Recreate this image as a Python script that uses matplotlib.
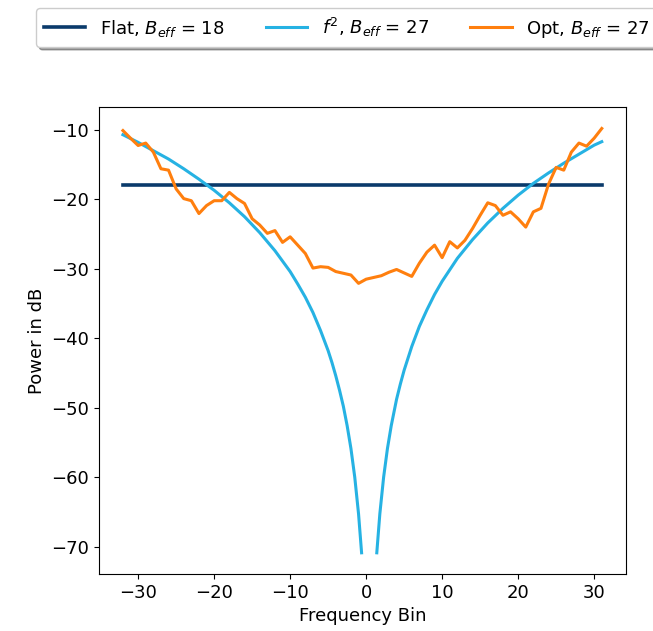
import numpy as np
import matplotlib
matplotlib.use("Agg")
import matplotlib.pyplot as plt

# ---- data ----
bins = list(range(-32, 32))
flat_level = [-18.0] * len(bins)

opt_db = [
    -10.1, -11.2, -12.25, -11.9, -13.2, -15.6, -15.8, -18.5,   # -32..-25
    -19.9, -20.2, -22.05, -20.9, -20.2, -20.2, -19.0, -19.9,   # -24..-17
    -20.6, -22.8, -23.7, -24.9, -24.5, -26.2, -25.4, -26.6,    # -16..-9
    -27.8, -29.9, -29.7, -29.8, -30.4, -30.65, -30.9, -32.1,   # -8..-1
    -31.5, -31.25, -31.0, -30.5, -30.1, -30.6, -31.1, -29.2,   # 0..7
    -27.6, -26.6, -28.4, -26.1, -27.0, -25.9, -24.2, -22.3,    # 8..15
    -20.5, -20.9, -22.3, -21.8, -22.8, -24.0, -21.8, -21.3,    # 16..23
    -17.8, -15.4, -15.8, -13.2, -11.9, -12.35, -11.2, -9.8,    # 24..31
]

f2_x = [-32, -30, -28, -26, -24, -22, -20, -18, -16, -14, -12, -10, -9, -8, -7,
        -6, -5, -4.5, -4, -3.5, -3, -2.5, -2, -1.5, -1, -0.6,
        0.4,
        1.4, 1.8, 2.3, 2.8, 3.3, 4, 4.5, 5, 6, 7, 8, 9, 10, 12, 14, 16, 18, 20,
        22, 24, 26, 28, 30, 31]
f2_db = [-10.7, -11.8, -13.0, -14.2, -15.6, -17.1, -18.7, -20.5, -22.5, -24.8,
         -27.4, -30.4, -32.2, -34.1, -36.3, -38.9, -41.8, -43.5, -45.4, -47.5,
         -49.8, -52.6, -55.9, -60.0, -65.3, -70.9,
         np.nan,
         -70.9, -65.3, -60.0, -55.9, -52.6, -48.8, -46.6, -44.6, -41.2, -38.3,
         -35.9, -33.7, -31.8, -28.5, -25.8, -23.4, -21.3, -19.4, -17.7, -16.2,
         -14.8, -13.5, -12.2, -11.7]

labels = [r"Flat, $B_{eff}$ = 18", r"$f^2$, $B_{eff}$ = 27", r"Opt, $B_{eff}$ = 27"]
colors = ["#0a3a6b", "#26b2e3", "#ff7f0e"]

plt.rcParams["font.family"] = ["DejaVu Sans"]
plt.rcParams["font.size"] = 13

fig = plt.figure(figsize=(6.53, 6.31), dpi=100)
ax = fig.add_axes([0.1516, 0.0903, 0.9582 - 0.1516, 0.830 - 0.0903])

ax.plot(bins, flat_level, color=colors[0], lw=2.6, label=labels[0])
ax.plot(f2_x, f2_db, color=colors[1], lw=2.2, label=labels[1])
ax.plot(bins, opt_db, color=colors[2], lw=2.2, label=labels[2])

ax.set_xlabel("Frequency Bin")
ax.set_ylabel("Power in dB")
ax.set_xticks([-30, -20, -10, 0, 10, 20, 30])
ax.set_yticks([-10, -20, -30, -40, -50, -60, -70])

fig.legend(loc="center", bbox_to_anchor=(0.531, 0.956), ncol=3,
           handlelength=2.3, columnspacing=2.3, shadow=True)

fig.savefig("out.png", dpi=100)
